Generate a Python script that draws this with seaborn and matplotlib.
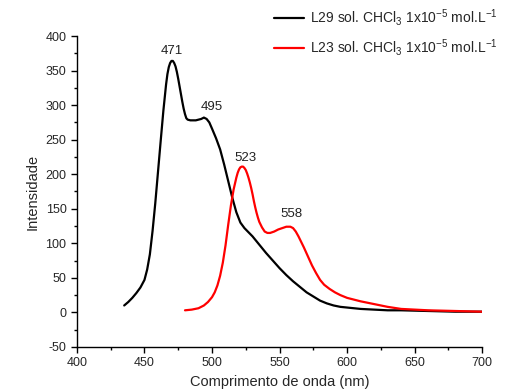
import numpy as np
import pandas as pd
import matplotlib
matplotlib.use('Agg')
import matplotlib.pyplot as plt
import seaborn as sns
from matplotlib.ticker import MultipleLocator

sns.set_theme(style='ticks')
plt.rcParams['font.family'] = ['Liberation Sans', 'DejaVu Sans']
plt.rcParams['mathtext.fontset'] = 'custom'
plt.rcParams['mathtext.rm'] = 'Liberation Sans'
plt.rcParams['mathtext.it'] = 'Liberation Sans'
plt.rcParams['axes.unicode_minus'] = False

# L29 (preto)
wl_l29 = [435, 438, 441, 444, 447, 450, 452, 454, 456, 458, 460, 462, 464, 466, 467, 468,
          469, 470, 471, 472, 473, 474, 475, 476, 477, 478, 479, 480, 481, 482, 484, 486,
          488, 490, 492, 494, 496, 498, 500, 503, 506, 509, 512, 515, 518, 521, 524, 527,
          530, 535, 540, 545, 550, 555, 560, 565, 570, 575, 580, 585, 590, 595, 600, 610,
          620, 630, 640, 660, 680, 700]
int_l29 = [10, 15, 21, 28, 36, 47, 62, 84, 118, 158, 203, 248, 292, 330, 345, 355,
           361, 364, 364, 361, 356, 348, 338, 327, 316, 305, 295, 287, 281, 279, 278, 278,
           278, 279, 280, 282, 280, 275, 266, 252, 236, 214, 190, 166, 145, 130, 122, 116,
           110, 98, 86, 75, 64, 54, 45, 37, 29, 23, 17, 13, 10, 8, 7, 5,
           4, 3, 3, 2, 1, 1]

# L23 (vermelho)
wl_l23 = [480, 485, 490, 494, 497, 500, 502, 504, 506, 508, 510, 512, 514, 516, 518, 519,
          520, 521, 522, 523, 524, 525, 526, 527, 528, 529, 530, 531, 532, 533, 534, 535,
          537, 539, 541, 543, 546, 549, 552, 555, 558, 560, 562, 564, 566, 568, 571, 574,
          577, 580, 583, 587, 591, 595, 600, 610, 620, 630, 640, 650, 660, 680, 700]
int_l23 = [3, 4, 6, 10, 15, 22, 29, 39, 53, 72, 97, 127, 155, 178, 195, 202,
           207, 210, 211, 211, 209, 206, 201, 195, 188, 180, 171, 161, 152, 144, 137, 131,
           123, 117, 115, 115, 117, 120, 122, 124, 124, 122, 117, 110, 102, 94, 81, 68,
           57, 47, 40, 34, 29, 25, 21, 16, 12, 8, 5, 4, 3, 2, 1]

peak_labels = ['471', '495', '523', '558']
peak_x = [470.5, 500, 525, 559]
peak_y = [379, 298, 224, 142]

lbl_l29 = r'L29 sol. CHCl$_3$ 1x10$^{-5}$ mol.L$^{-1}$'
lbl_l23 = r'L23 sol. CHCl$_3$ 1x10$^{-5}$ mol.L$^{-1}$'

df29 = pd.DataFrame({'wl': wl_l29, 'inten': int_l29})
df23 = pd.DataFrame({'wl': wl_l23, 'inten': int_l23})

fig = plt.figure(figsize=(5.06, 3.92), dpi=100)
ax = fig.add_axes([0.152, 0.115, 0.801, 0.793])

sns.lineplot(data=df29, x='wl', y='inten', color='black', linewidth=1.6, label=lbl_l29, ax=ax)
sns.lineplot(data=df23, x='wl', y='inten', color='red', linewidth=1.6, label=lbl_l23, ax=ax)

for t, x, y in zip(peak_labels, peak_x, peak_y):
    ax.text(x, y, t, ha='center', va='center', fontsize=9.5, color='#222222')

ax.set_xlim(400, 700)
ax.set_ylim(-50, 400)
ax.xaxis.set_major_locator(MultipleLocator(50))
ax.xaxis.set_minor_locator(MultipleLocator(25))
ax.yaxis.set_major_locator(MultipleLocator(50))
ax.yaxis.set_minor_locator(MultipleLocator(25))
ax.tick_params(which='major', direction='out', length=4, width=1, labelsize=9, color='black')
ax.tick_params(which='minor', direction='out', length=2.5, width=1, color='black')
sns.despine(ax=ax)
for s in ['left', 'bottom']:
    ax.spines[s].set_color('black')
    ax.spines[s].set_linewidth(1)

ax.set_xlabel('Comprimento de onda (nm)', fontsize=10.5)
ax.set_ylabel('Intensidade', fontsize=10.5)

ax.legend(loc='upper left', bbox_to_anchor=(0.472, 1.11), frameon=False, fontsize=10,
          handlelength=2.2, handletextpad=0.4, labelspacing=0.65, borderaxespad=0)

fig.savefig('out.png', dpi=100)
